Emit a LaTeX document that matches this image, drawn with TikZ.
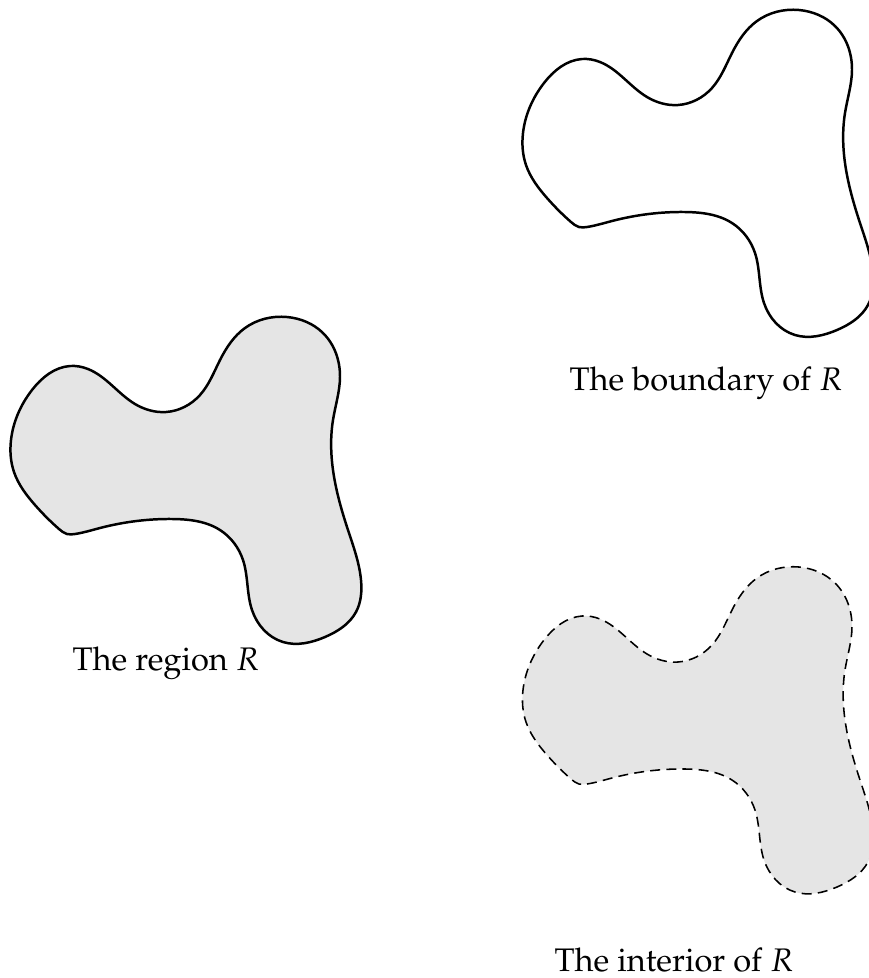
\documentclass[tikz,border=0pt]{standalone}
\usepackage[T1]{fontenc}
\usepackage{mathpazo}
\usepackage{amsmath}
\usetikzlibrary{hobby}

% the region R, in pixel units
\newcommand{\regionpath}{(75,534) .. (100,528) .. (173,519) .. (220,530)
  .. (243,560) .. (252,610) .. (283,642) .. (325,637) .. (356,612)
  .. (361,580) .. (348,530) .. (333,470) .. (333,420) .. (340,377)
  .. (323,333) .. (287,317) .. (245,328) .. (220,360) .. (200,395)
  .. (166,412) .. (135,404) .. (88,369) .. (70,366) .. (32,390)
  .. (11,440) .. (14,472) .. (35,505) .. (59,529) .. (67,534)}

\begin{document}
\begin{tikzpicture}[x=0.0113cm,y=-0.0113cm,line width=0.8pt,
  use Hobby shortcut,line join=round,
  regionfill/.style={fill=black!10},
  label/.style={inner sep=0pt,font=\fontsize{10.5}{12}\selectfont}]
  \useasboundingbox (0,0) rectangle (869,978);
  % region
  \draw[regionfill,closed=true] \regionpath;
  \node[label] (regionlabel) at (166,663) {The region $R$};
  % boundary
  \begin{scope}[shift={(512,-307)}]
    \draw[closed=true] \regionpath;
  \end{scope}
  \node[label] (boundarylabel) at (706,383) {The boundary of $R$};
  % interior
  \begin{scope}[shift={(512,250)}]
    \fill[regionfill,closed=true] \regionpath;
    \draw[closed=true,line width=0.5pt,dash pattern=on 3.2pt off 2pt] \regionpath;
  \end{scope}
  \node[label] (interiorlabel) at (674,960) {The interior of $R$};
\end{tikzpicture}
\end{document}
